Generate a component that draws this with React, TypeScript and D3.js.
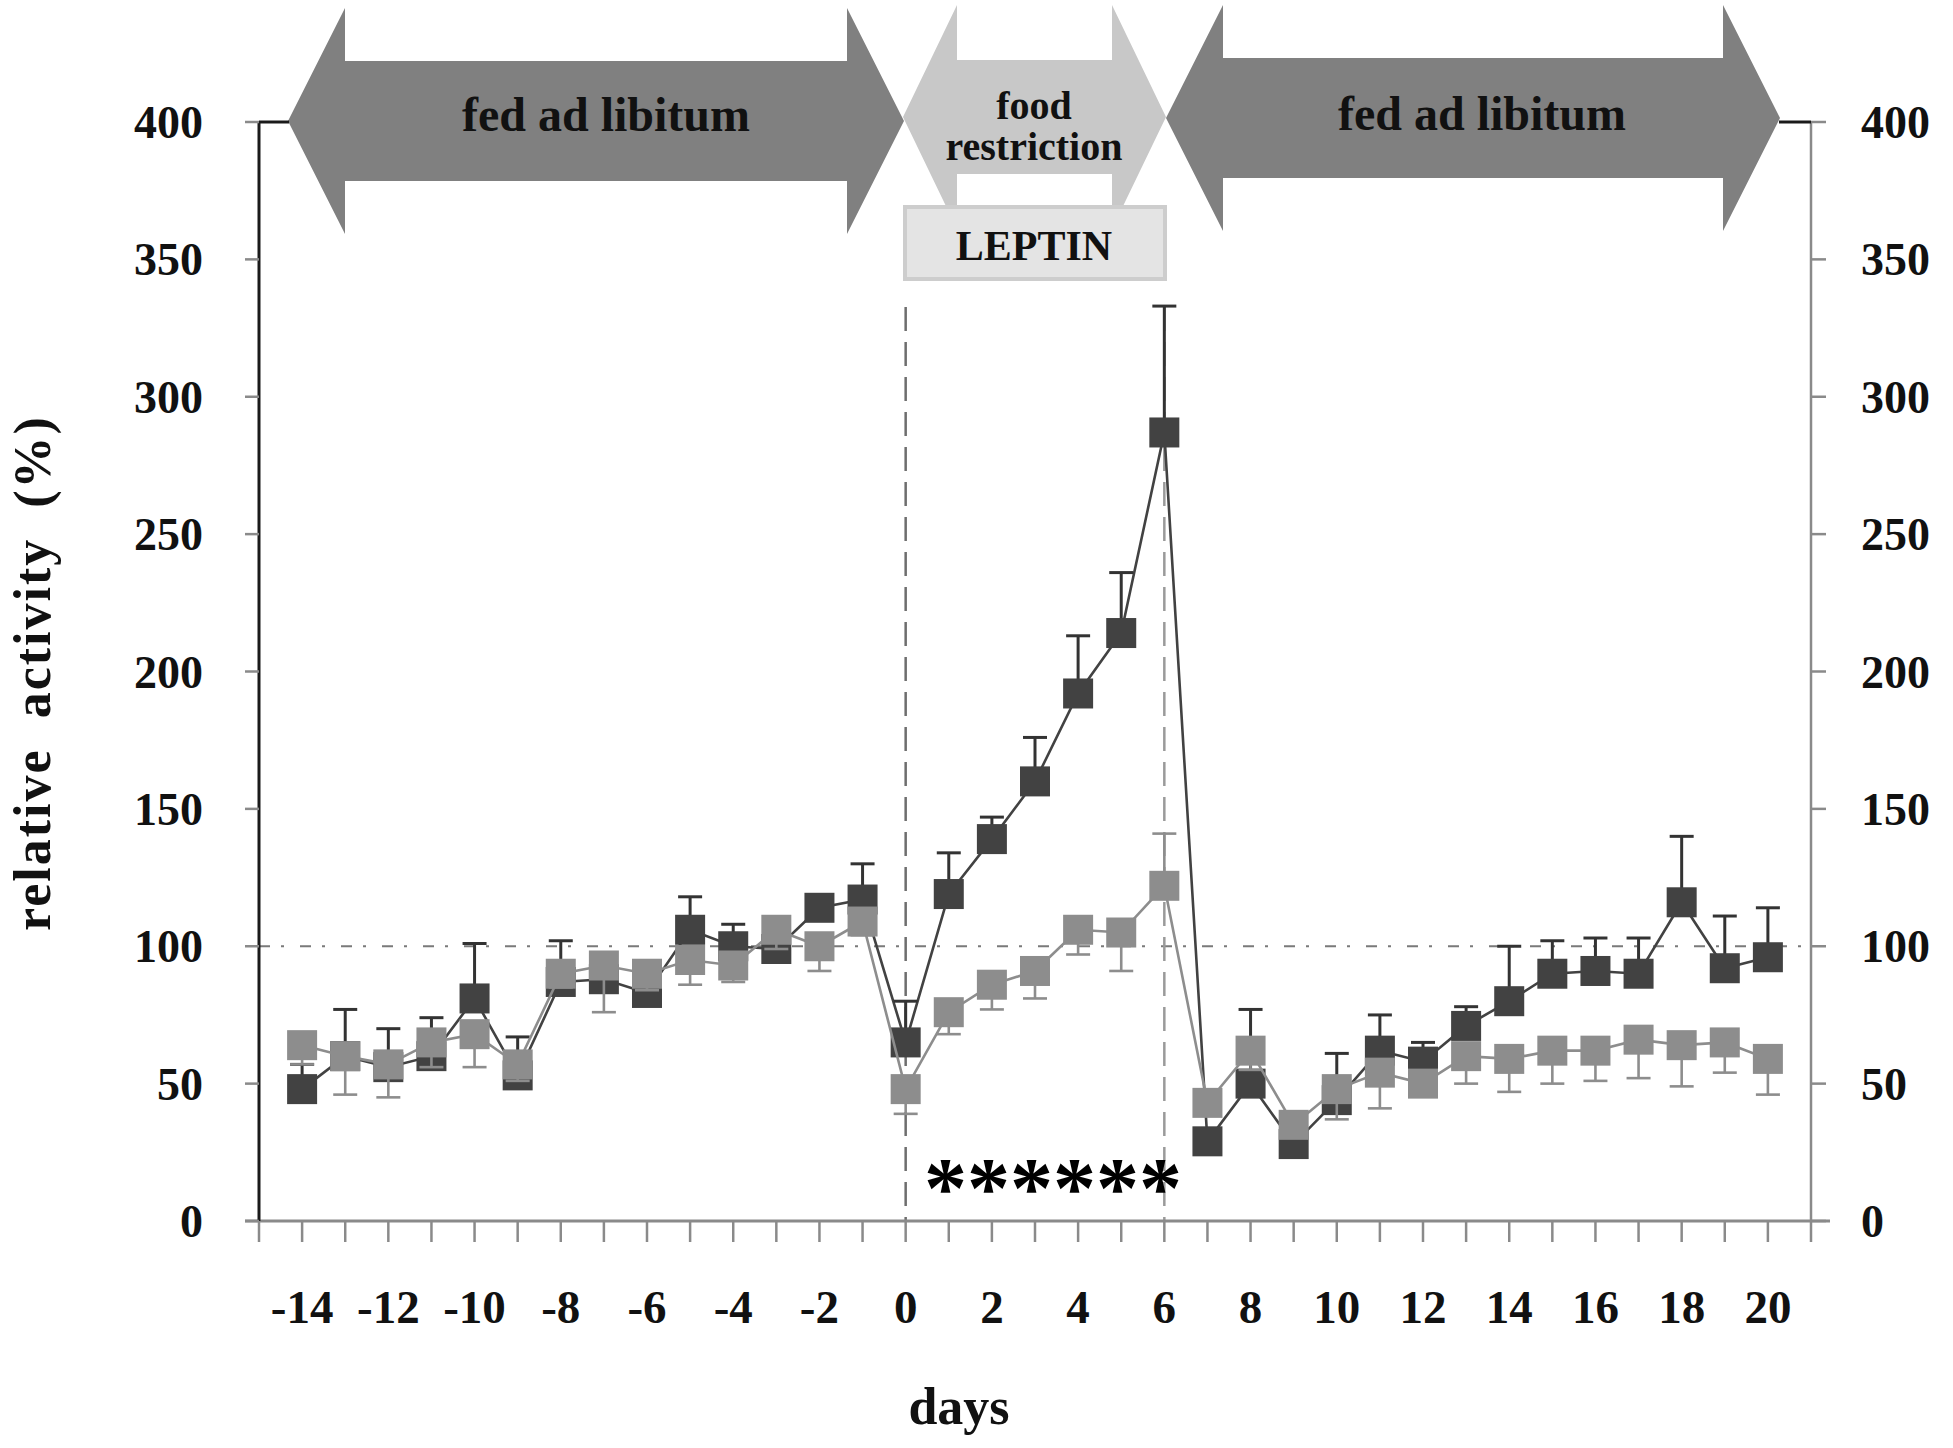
import React from "react";
import * as d3 from "d3";

const days = d3.range(-14, 21);
const darkValues = [48, 60, 56, 60, 81, 53, 87, 88, 83, 106, 100, 99, 114, 117, 65, 119, 139, 160, 192, 214, 287, 29, 50, 28, 44, 62, 58, 71, 80, 90, 91, 90, 116, 92, 96];
const darkUpper = [57, 77, 70, 74, 101, 67, 102, 97, 88, 118, 108, 103, 116, 130, 80, 134, 147, 176, 213, 236, 333, 31, 77, 30, 61, 75, 65, 78, 100, 102, 103, 103, 140, 111, 114];
const lightValues = [64, 60, 57, 65, 68, 57, 90, 93, 90, 95, 93, 106, 100, 109, 48, 76, 86, 91, 106, 105, 122, 43, 62, 35, 48, 54, 50, 60, 59, 62, 62, 66, 64, 65, 59];
const lightLower: (number | null)[] = [57, 46, 45, 56, 56, 51, 85, 76, 84, 86, 87, 99, 91, 104, 39, 68, 77, 81, 97, 91, null, 41, 55, 32, 37, 41, 46, 50, 47, 50, 51, 52, 49, 54, 46];
const lightUpper: (number | null)[] = days.map((d) => (d === 6 ? 141 : null));
const yTicks = [0, 50, 100, 150, 200, 250, 300, 350, 400];
const xTickLabels = d3.range(-14, 21, 2);
const xMinorTicks = d3.range(-15, 22);
const phaseLabels = ["fed ad libitum", "food restriction", "fed ad libitum"];
const treatmentLabel = "LEPTIN";
const referenceLevel = 100;
const markerDays = [0, 6];

const FONT = "'Liberation Serif', 'Times New Roman', serif";
const DARK = "#424242";
const LIGHT = "#8d8d8d";

function doubleArrow(x1: number, x2: number, cy: number, head: number, shaft: number, headHalf: number) {
  const p = d3.path();
  p.moveTo(x1, cy);
  p.lineTo(x1 + head, cy - headHalf);
  p.lineTo(x1 + head, cy - shaft);
  p.lineTo(x2 - head, cy - shaft);
  p.lineTo(x2 - head, cy - headHalf);
  p.lineTo(x2, cy);
  p.lineTo(x2 - head, cy + headHalf);
  p.lineTo(x2 - head, cy + shaft);
  p.lineTo(x1 + head, cy + shaft);
  p.lineTo(x1 + head, cy + headHalf);
  p.closePath();
  return p.toString();
}

export default function App() {
  const x = d3.scaleLinear().domain([-15, 21]).range([259, 1811]);
  const y = d3.scaleLinear().domain([0, 400]).range([1221, 122]);
  const line = d3
    .line<number>()
    .x((_, i) => x(days[i]))
    .y((v) => y(v));
  const ms = 30;
  const cap = 12;

  return (
    <svg
      width={1953}
      height={1448}
      style={{ position: "absolute", left: 0, top: 0, display: "block", background: "#fff" }}
      fontFamily={FONT}
      fontWeight="bold"
    >
      <rect width={1953} height={1448} fill="#fff" />

      {/* phase arrows */}
      <path d={doubleArrow(903, 1166, 117, 54, 57, 112)} fill="#c8c8c8" />
      <path d={doubleArrow(288, 904, 121, 57, 60, 113)} fill="#808080" />
      <path d={doubleArrow(1166, 1780, 118, 57, 60, 113)} fill="#808080" />
      <text x={606} y={131} fontSize={48} textAnchor="middle" fill="#111">
        {phaseLabels[0]}
      </text>
      <text x={1034} y={119} fontSize={40} textAnchor="middle" fill="#111">
        food
      </text>
      <text x={1034} y={160} fontSize={40} textAnchor="middle" fill="#111">
        restriction
      </text>
      <text x={1482} y={130} fontSize={48} textAnchor="middle" fill="#111">
        {phaseLabels[2]}
      </text>
      <rect x={905} y={207} width={260} height={72} fill="#e4e4e4" stroke="#cdcdcd" strokeWidth={4} />
      <text x={1034} y={260} fontSize={42} textAnchor="middle" fill="#111">
        {treatmentLabel}
      </text>

      {/* reference line at 100 */}
      <line
        x1={x(-15)}
        x2={x(21)}
        y1={y(referenceLevel)}
        y2={y(referenceLevel)}
        stroke="#7a7a7a"
        strokeWidth={2.2}
        strokeDasharray="11,11,3,16"
      />
      {/* vertical dashed lines */}
      <line x1={x(markerDays[0])} x2={x(markerDays[0])} y1={307} y2={y(0)} stroke="#6e6e6e" strokeWidth={2.5} strokeDasharray="24,11" />
      <line x1={x(markerDays[1])} x2={x(markerDays[1])} y1={307} y2={y(0)} stroke="#9a9a9a" strokeWidth={2.5} strokeDasharray="24,11" />

      {/* axes */}
      <line x1={245} x2={1830} y1={y(0)} y2={y(0)} stroke="#8a8a8a" strokeWidth={3} />
      {xMinorTicks.map((d) => (
        <line key={"xt" + d} x1={x(d)} x2={x(d)} y1={y(0)} y2={y(0) + 21} stroke="#8a8a8a" strokeWidth={2.5} />
      ))}
      {xTickLabels.map((d) => (
        <text key={"xl" + d} x={x(d)} y={1323} fontSize={47} textAnchor="middle" fill="#111">
          {d}
        </text>
      ))}
      <line x1={x(-15)} x2={x(-15)} y1={y(400)} y2={y(0)} stroke="#1a1a1a" strokeWidth={3} />
      <line x1={x(21)} x2={x(21)} y1={y(400)} y2={y(0)} stroke="#8a8a8a" strokeWidth={2.5} />
      {yTicks.map((t) => (
        <g key={"yt" + t}>
          <line x1={x(-15) - 14} x2={x(-15)} y1={y(t)} y2={y(t)} stroke="#8a8a8a" strokeWidth={2.5} />
          <line x1={x(21)} x2={x(21) + 15} y1={y(t)} y2={y(t)} stroke="#8a8a8a" strokeWidth={2.5} />
          <text x={203} y={y(t)} dy="0.35em" fontSize={46} textAnchor="end" fill="#111">
            {t}
          </text>
          <text x={1861} y={y(t)} dy="0.35em" fontSize={46} textAnchor="start" fill="#111">
            {t}
          </text>
        </g>
      ))}
      <line x1={x(-15)} x2={289} y1={y(400)} y2={y(400)} stroke="#1a1a1a" strokeWidth={3} />
      <line x1={1779} x2={x(21)} y1={y(400)} y2={y(400)} stroke="#1a1a1a" strokeWidth={3} />

      {/* dark series */}
      <path d={line(darkValues) || ""} fill="none" stroke={DARK} strokeWidth={2.6} />
      {darkValues.map((v, i) => (
        <g key={"de" + i}>
          <line x1={x(days[i])} x2={x(days[i])} y1={y(v)} y2={y(darkUpper[i])} stroke="#333" strokeWidth={3} />
          <line x1={x(days[i]) - cap} x2={x(days[i]) + cap} y1={y(darkUpper[i])} y2={y(darkUpper[i])} stroke="#333" strokeWidth={3} />
        </g>
      ))}
      {darkValues.map((v, i) => (
        <rect key={"dm" + i} x={x(days[i]) - ms / 2} y={y(v) - ms / 2} width={ms} height={ms} fill={DARK} />
      ))}

      {/* light series */}
      <path d={line(lightValues) || ""} fill="none" stroke={LIGHT} strokeWidth={2.6} />
      {lightValues.map((v, i) => (
        <g key={"le" + i}>
          {lightLower[i] !== null && (
            <>
              <line x1={x(days[i])} x2={x(days[i])} y1={y(v)} y2={y(lightLower[i] as number)} stroke={LIGHT} strokeWidth={2.6} />
              <line x1={x(days[i]) - cap} x2={x(days[i]) + cap} y1={y(lightLower[i] as number)} y2={y(lightLower[i] as number)} stroke={LIGHT} strokeWidth={2.6} />
            </>
          )}
          {lightUpper[i] !== null && (
            <>
              <line x1={x(days[i])} x2={x(days[i])} y1={y(v)} y2={y(lightUpper[i] as number)} stroke={LIGHT} strokeWidth={2.6} />
              <line x1={x(days[i]) - cap} x2={x(days[i]) + cap} y1={y(lightUpper[i] as number)} y2={y(lightUpper[i] as number)} stroke={LIGHT} strokeWidth={2.6} />
            </>
          )}
        </g>
      ))}
      {lightValues.map((v, i) => (
        <rect key={"lm" + i} x={x(days[i]) - ms / 2} y={y(v) - ms / 2} width={ms} height={ms} fill={LIGHT} />
      ))}

      {/* significance */}
      <text x={1053} y={1217} fontSize={86} textAnchor="middle" fill="#000">
        ******
      </text>

      {/* axis titles */}
      <text x={959} y={1424} fontSize={52} textAnchor="middle" fill="#111">
        days
      </text>
      <text
        transform={`translate(50,673) rotate(-90)`}
        fontSize={52}
        textAnchor="middle"
        fill="#111"
        letterSpacing={2}
        style={{ whiteSpace: "pre" }}
      >
        {"relative  activity  (%)"}
      </text>
    </svg>
  );
}
